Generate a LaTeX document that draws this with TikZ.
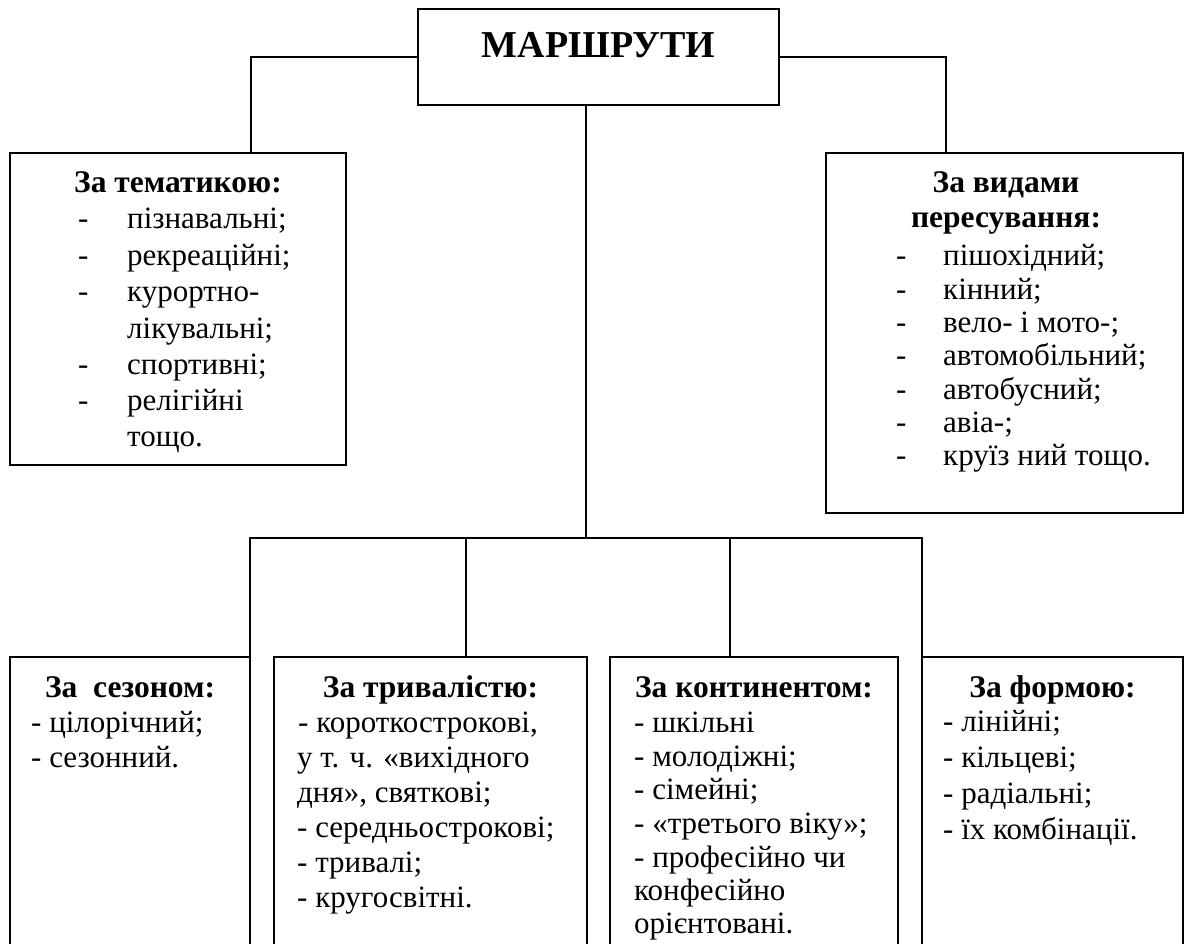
\documentclass[tikz,border=0pt]{standalone}
\usepackage{fontspec}
\setmainfont{Liberation Serif}
\tikzset{
  box/.style={draw, line width=2pt, inner sep=0pt, outer sep=0pt, anchor=north west},
  link/.style={line width=2pt},
  head/.style={font=\fontsize{31.5}{31.5}\selectfont\bfseries, anchor=base, inner sep=0pt},
  item/.style={font=\fontsize{31}{31}\selectfont, anchor=base west, inner sep=0pt},
}
\newcommand{\dashitem}[1]{\makebox[49pt][l]{-}#1}

\begin{document}
\begin{tikzpicture}[x=1pt,y=-1pt]
\useasboundingbox (0,0) rectangle (1188,943);
\clip (0,0) rectangle (1188,943);
\fill[white] (0,0) rectangle (1188,943);

% boxes
\node[box, minimum width=361pt, minimum height=96pt] (routes) at (418,9) {};
\node[box, minimum width=336pt, minimum height=312pt] (tema) at (10,153) {};
\node[box, minimum width=357pt, minimum height=360pt] (vydy) at (826,153) {};
\node[box, minimum width=240pt, minimum height=340pt] (sezon) at (10,657) {};
\node[box, minimum width=313pt, minimum height=340pt] (tryv) at (274,657) {};
\node[box, minimum width=288pt, minimum height=340pt] (kont) at (610,657) {};
\node[box, minimum width=261pt, minimum height=340pt] (form) at (922,657) {};

% title
\node[head, font=\fontsize{38}{38}\selectfont\bfseries] (routesText) at (598.5,57) {МАРШРУТИ};

% connectors
\coordinate (temaIn) at (251,153);
\coordinate (vydyIn) at (946,153);
\coordinate (hub) at (586,538);
\coordinate (busL) at (250,538);
\coordinate (busR) at (922,538);
\coordinate (tryvIn) at (466,538);
\coordinate (kontIn) at (730,538);

\draw[link] (routes.west) -| (temaIn);
\draw[link] (routes.east) -| (vydyIn);
\draw[link] (routes.south -| hub) -- (hub);
\draw[link] (busL |- sezon.north) -- (busL) -- (busR) -- (busR |- form.north);
\draw[link] (tryvIn) -- (tryvIn |- tryv.north);
\draw[link] (kontIn) -- (kontIn |- kont.north);

% left box: by theme
\node[head] (temaHead) at (178,192) {За тематикою:};
\node[item] (tema1) at (78,228) {\dashitem{пізнавальні;}};
\node[item] (tema2) at (78,265) {\dashitem{рекреаційні;}};
\node[item] (tema3) at (78,301) {\dashitem{курортно-}};
\node[item] (tema4) at (127,338) {лікувальні;};
\node[item] (tema5) at (78,374) {\dashitem{спортивні;}};
\node[item] (tema6) at (78,410) {\dashitem{релігійні}};
\node[item] (tema7) at (127,446) {тощо.};

% right box: by kind of travel
\node[head] (vydyHead1) at (1006,192) {За видами};
\node[head] (vydyHead2) at (1006,227) {пересування:};
\node[item] (vydy1) at (896,265) {\makebox[47pt][l]{-}пішохідний;};
\node[item] (vydy2) at (896,299) {\makebox[47pt][l]{-}кінний;};
\node[item] (vydy3) at (896,332) {\makebox[47pt][l]{-}вело- і мото-;};
\node[item] (vydy4) at (896,365) {\makebox[47pt][l]{-}автомобільний;};
\node[item] (vydy5) at (896,399) {\makebox[47pt][l]{-}автобусний;};
\node[item] (vydy6) at (896,432) {\makebox[47pt][l]{-}авіа-;};
\node[item] (vydy7) at (896,465) {\makebox[47pt][l]{-}круїз ний тощо.};

% bottom row
\node[head] (sezonHead) at (130,697) {За\ \ сезоном:};
\node[item] (sezon1) at (31,732) {- цілорічний;};
\node[item] (sezon2) at (31,767) {- сезонний.};

\node[head] (tryvHead) at (430.5,697) {За тривалістю:};
\node[item] (tryv1) at (298,732) {- короткострокові,};
\node[item] (tryv2) at (297,767) {у т. ч. «вихідного};
\node[item] (tryv3) at (297,802) {дня», святкові;};
\node[item] (tryv4) at (297,837) {- середньострокові;};
\node[item] (tryv5) at (297,872) {- тривалі;};
\node[item] (tryv6) at (297,907) {- кругосвітні.};

\node[head] (kontHead) at (754,697) {За континентом:};
\node[item] (kont1) at (634,732) {- шкільні};
\node[item] (kont2) at (634,766) {- молодіжні;};
\node[item] (kont3) at (634,799) {- сімейні;};
\node[item] (kont4) at (634,833) {- «третього віку»;};
\node[item] (kont5) at (634,867) {- професійно чи};
\node[item] (kont6) at (634,900) {конфесійно};
\node[item] (kont7) at (634,933) {орієнтовані.};

\node[head] (formHead) at (1052.5,697) {За формою:};
\node[item] (form1) at (943,731) {- лінійні;};
\node[item] (form2) at (943,767) {- кільцеві;};
\node[item] (form3) at (943,803) {- радіальні;};
\node[item] (form4) at (943,839) {- їх комбінації.};

\end{tikzpicture}
\end{document}
